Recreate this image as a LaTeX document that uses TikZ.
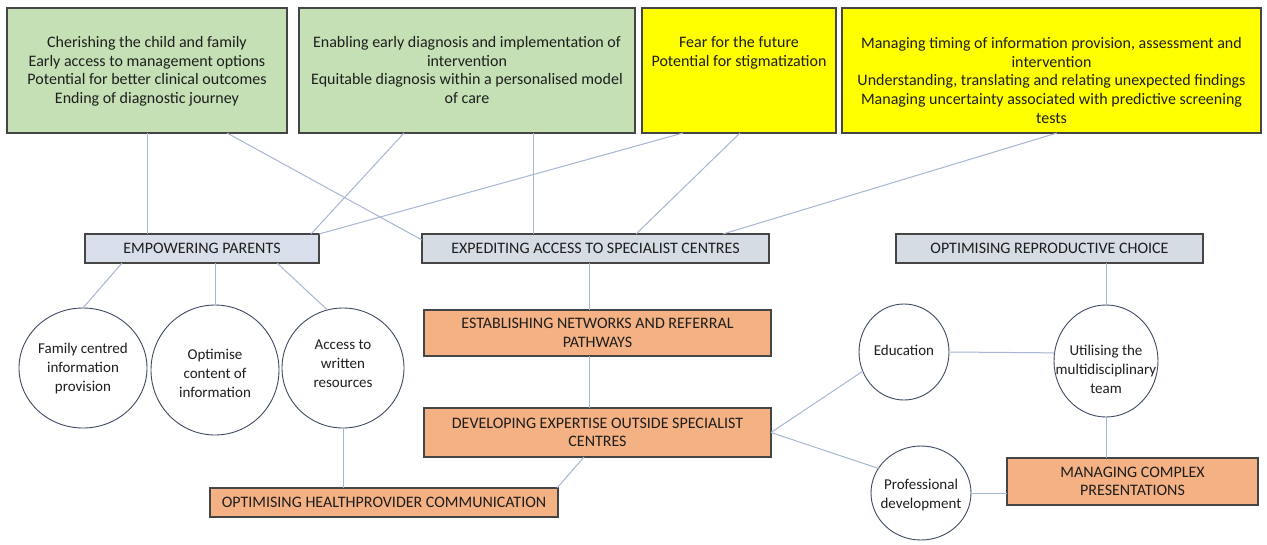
\documentclass[tikz,border=0pt]{standalone}
\usepackage{fontspec}
\setmainfont{Carlito}
\usetikzlibrary{shapes.geometric}
\definecolor{gfill}{HTML}{C5E0B4}
\definecolor{yfill}{HTML}{FFFF00}
\definecolor{bfill}{HTML}{D9DFEA}
\definecolor{gbfill}{HTML}{D6DCE4}
\definecolor{ofill}{HTML}{F4B183}
\definecolor{lnc}{HTML}{A7B6D2}
\definecolor{bord}{HTML}{454545}
\definecolor{cbord}{HTML}{3E4A63}
\definecolor{txt}{HTML}{1E1E1E}
\tikzset{
  box/.style={draw=bord, line width=1.3pt, inner sep=0pt, outer sep=0pt},
  circ/.style={ellipse, draw=cbord, line width=0.9pt, fill=white, inner sep=0pt, outer sep=0pt},
  lbl/.style={font=\fontsize{16}{18.7}\selectfont, text=txt, align=center, inner sep=0pt},
  clbl/.style={font=\fontsize{15}{19}\selectfont, text=txt, align=center, inner sep=0pt},
  conn/.style={draw=lnc, line width=1pt}
}
\begin{document}
\begin{tikzpicture}[x=1pt,y=-1pt]
\useasboundingbox[fill=white] (0,0) rectangle (1267,544);
% top boxes
\node[box, fill=gfill, minimum width=280pt, minimum height=125pt] (g1) at (147,70.5) {};
\node[box, fill=gfill, minimum width=336pt, minimum height=125pt] (g2) at (467,70.5) {};
\node[box, fill=yfill, minimum width=194pt, minimum height=125pt] (y1) at (739,70.5) {};
\node[box, fill=yfill, minimum width=419pt, minimum height=125pt] (y2) at (1051.5,70.5) {};
\node[lbl, anchor=north] (g1t) at (147,36) {Cherishing the child and family\\Early access to management options\\Potential for better clinical outcomes\\Ending of diagnostic journey};
\node[lbl, anchor=north] (g2t) at (467,36) {Enabling early diagnosis and implementation of\\intervention\\Equitable diagnosis within a personalised model\\of care};
\node[lbl, anchor=north] (y1t) at (739,36) {Fear for the future\\Potential for stigmatization};
\node[lbl, anchor=north] (y2t) at (1051.5,37) {Managing timing of information provision, assessment and\\intervention\\Understanding, translating and relating unexpected findings\\Managing uncertainty associated with predictive screening\\tests};
% theme boxes
\node[box, fill=bfill, minimum width=234pt, minimum height=29pt, lbl] (ep) at (202,248.5) {EMPOWERING PARENTS};
\node[box, fill=gbfill, minimum width=347pt, minimum height=29pt, lbl] (ea) at (595.5,248.5) {EXPEDITING ACCESS TO SPECIALIST CENTRES};
\node[box, fill=gbfill, minimum width=307pt, minimum height=29pt, lbl] (orc) at (1049.5,248.5) {OPTIMISING REPRODUCTIVE CHOICE};
% orange boxes
\node[box, fill=ofill, minimum width=347pt, minimum height=46pt, lbl] (en) at (597.5,333) {ESTABLISHING NETWORKS AND REFERRAL\\PATHWAYS};
\node[box, fill=ofill, minimum width=347pt, minimum height=49pt, lbl] (de) at (597.5,432.5) {DEVELOPING EXPERTISE OUTSIDE SPECIALIST\\CENTRES};
\node[box, fill=ofill, minimum width=348pt, minimum height=29pt, lbl] (oh) at (384,502.5) {OPTIMISING HEALTHPROVIDER COMMUNICATION};
\node[box, fill=ofill, minimum width=251pt, minimum height=47pt, lbl] (mc) at (1132.5,481.5) {MANAGING COMPLEX\\PRESENTATIONS};
% circles
\node[circ, minimum width=128pt, minimum height=120pt] (c1) at (83,368) {};
\node[circ, minimum width=128pt, minimum height=130pt] (c2) at (215,370) {};
\node[circ, minimum width=122pt, minimum height=120pt] (c3) at (343,368) {};
\node[circ, minimum width=90pt, minimum height=96pt] (edu) at (904,352) {};
\node[circ, minimum width=104pt, minimum height=112pt] (util) at (1106,361) {};
\node[circ, minimum width=100pt, minimum height=94pt] (prof) at (921,493) {};
\node[clbl] (c1t) at (83,368) {Family centred\\information\\provision};
\node[clbl] (c2t) at (215,373) {Optimise\\content of\\information};
\node[clbl] (c3t) at (343,364) {Access to\\written\\resources};
\node[clbl] (edut) at (904,350) {Education};
\node[clbl] (utilt) at (1106,369) {Utilising the\\multidisciplinary\\team};
\node[clbl] (proft) at (921,495) {Professional\\development};
% connectors
\draw[conn] (g1.south) -- (g1.south |- ep.north);
\draw[conn] ([xshift=80pt]g1.south) -- ([yshift=-6pt]ea.north west);
\draw[conn] ([xshift=-63pt]g2.south) -- ([xshift=-8pt]ep.north east);
\draw[conn] ([xshift=66pt]g2.south) -- ([xshift=-62.5pt]ea.north);
\draw[conn] ([xshift=-56pt]y1.south) -- (ep.north east);
\draw[conn] ([xshift=1pt]y1.south) -- ([xshift=40.5pt]ea.north);
\draw[conn] ([xshift=5.5pt]y2.south) -- ([xshift=127.5pt]ea.north);
\draw[conn] ([xshift=-80pt]ep.south) -- (c1.north);
\draw[conn] ([xshift=13pt]ep.south) -- (c2.north);
\draw[conn] ([xshift=75pt]ep.south) -- (c3.105);
\draw[conn] ([xshift=-6.5pt]ea.south) -- ([xshift=-8.5pt]en.north);
\draw[conn] ([xshift=-8.5pt]en.south) -- ([xshift=-8.5pt]de.north);
\draw[conn] (c3.south) -- ([xshift=-41pt]oh.north);
\draw[conn] ([xshift=-13.5pt]de.south) -- ([xshift=-1pt]oh.north east);
\draw[conn] (de.east) -- (edu.205);
\draw[conn] (de.east) -- (prof.150);
\draw[conn] (edu.east) -- (util.171);
\draw[conn] ([xshift=56.5pt]orc.south) -- (util.north);
\draw[conn] (util.south) -- ([xshift=-26.5pt]mc.north);
\draw[conn] (prof.east) -- (prof.east -| mc.west);
\end{tikzpicture}
\end{document}
